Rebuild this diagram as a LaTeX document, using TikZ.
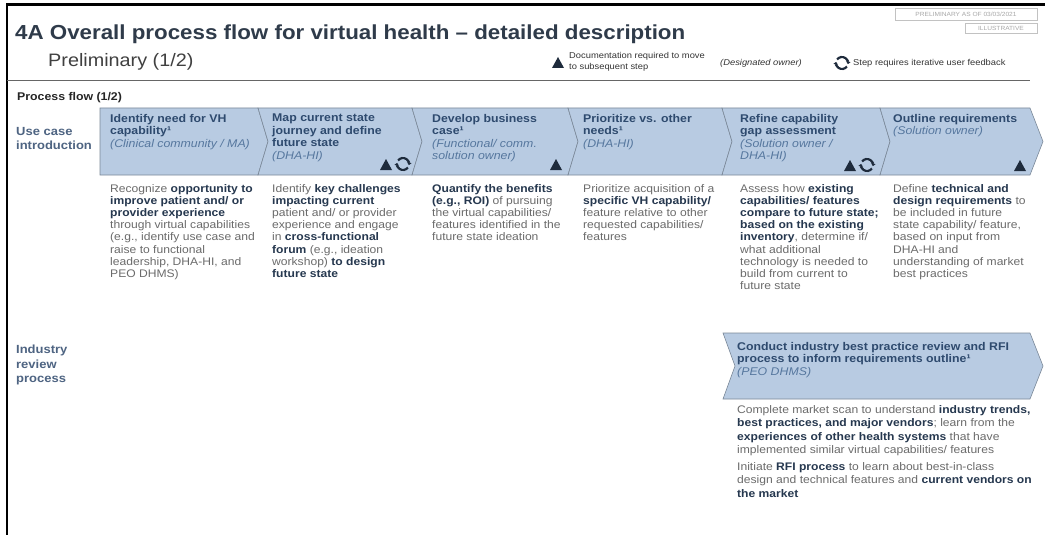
\documentclass[tikz,border=0pt]{standalone}
\usepackage{fontspec}
\setmainfont{Liberation Sans}[FakeStretch=1.1]
\usetikzlibrary{arrows.meta}

\definecolor{band}{HTML}{B8CBE2}
\definecolor{bandline}{HTML}{7A8898}
\definecolor{hdrc}{HTML}{2E4A6E}
\definecolor{ownc}{HTML}{56779E}
\definecolor{bodyc}{HTML}{6B6B6B}
\definecolor{emc}{HTML}{26384F}
\definecolor{rowc}{HTML}{4E6482}
\definecolor{ttlc}{HTML}{2F3B4A}
\definecolor{iconc}{HTML}{1E2B3C}
\definecolor{stampc}{HTML}{A8A8A8}

\newcommand{\hi}[1]{{\bfseries\color{emc}#1}}
\newcommand{\own}[1]{{\mdseries\itshape\color{ownc}#1}}

\begin{document}
\begin{tikzpicture}[x=1pt,y=-1pt,
  chev/.style={fill=band, draw=bandline, line width=0.6pt},
  hdr/.style={anchor=north west, inner sep=0pt, align=left, text=hdrc,
    font=\fontsize{11.2}{12.5}\selectfont\bfseries},
  desc/.style={anchor=north west, inner sep=0pt, align=left, text=bodyc,
    font=\fontsize{11}{12.2}\selectfont},
  lbl/.style={anchor=north west, inner sep=0pt, align=left, text=rowc,
    font=\fontsize{11.8}{14.5}\selectfont\bfseries},
  legend/.style={inner sep=0pt, text=black!80, font=\fontsize{8.5}{11}\selectfont},
  stamp/.style={draw=stampc!70, line width=0.5pt, fill=white},
  doctri/.pic={\fill[iconc] (-6,5) -- (6,5) -- (0,-6) -- cycle;},
  iterate/.pic={
    \draw[iconc, line width=2.2pt, -{Triangle[length=2.4pt,width=4.6pt]}]
      (35:6) arc[start angle=35, end angle=190, radius=6];
    \draw[iconc, line width=2.2pt, -{Triangle[length=2.4pt,width=4.6pt]}]
      (215:6) arc[start angle=215, end angle=370, radius=6];}
]
\useasboundingbox (0,0) rectangle (1045,535);
\fill[white] (0,0) rectangle (1045,535);

% page frame
\draw[line width=2.5pt] (7,535) -- (7,4.5) -- (1045,4.5);

% stamp boxes
\draw[stamp] (895,8) rectangle (1037,20);
\node[inner sep=0pt, text=stampc, font=\fontsize{6}{7}\selectfont] (stamp1) at (966,14) {PRELIMINARY AS OF 03/03/2021};
\draw[stamp] (965,23) rectangle (1037,33);
\node[inner sep=0pt, text=stampc, font=\fontsize{6}{7}\selectfont] (stamp2) at (1001,28) {ILLUSTRATIVE};

% title block
\node[anchor=base west, inner sep=0pt, text=ttlc, font=\fontsize{20.3}{24}\selectfont\bfseries] (title) at (15,40) {4A Overall process flow for virtual health -- detailed description};
\node[anchor=base west, inner sep=0pt, text=black!75, font=\fontsize{18}{20}\selectfont] (sub) at (48,66.5) {Preliminary (1/2)};

% legend
\pic at (558,63) {doctri};
\node[legend, anchor=north west, align=left] (legdoc) at (569,52) {Documentation required to move\\to subsequent step};
\node[legend, anchor=base west, font=\fontsize{8.5}{11}\selectfont\itshape] (legown) at (720,66) {(Designated owner)};
\pic at (842,63) {iterate};
\node[legend, anchor=base west] (legit) at (853,66) {Step requires iterative user feedback};
\draw[black!60, line width=0.7pt] (7,80) -- (1030,80);

\node[anchor=base west, inner sep=0pt, text=black!85, font=\fontsize{11.2}{13}\selectfont\bfseries] (pf) at (17,101) {Process flow (1/2)};

% row labels
\node[lbl] (row1) at (16,127) {Use case\\introduction};
\node[lbl] (row2) at (16,345) {Industry\\review\\process};

% chevron band, row 1
\draw[chev] (100,108) -- (258,108) -- (268,141.5) -- (258,175) -- (100,175) -- cycle;
\draw[chev] (258,108) -- (412,108) -- (422,141.5) -- (412,175) -- (258,175) -- (268,141.5) -- cycle;
\draw[chev] (412,108) -- (568,108) -- (578,141.5) -- (568,175) -- (412,175) -- (422,141.5) -- cycle;
\draw[chev] (568,108) -- (722,108) -- (732,141.5) -- (722,175) -- (568,175) -- (578,141.5) -- cycle;
\draw[chev] (722,108) -- (880,108) -- (890,141.5) -- (880,175) -- (722,175) -- (732,141.5) -- cycle;
\draw[chev] (880,108) -- (1030,108) -- (1043,141.5) -- (1030,175) -- (880,175) -- (890,141.5) -- cycle;

% chevron, row 2
\draw[chev] (723,333) -- (1030,333) -- (1043,366) -- (1030,399) -- (723,399) -- (735,366) -- cycle;

% step headers
\node[hdr] (h1) at (110,114) {Identify need for VH\\capability¹\\\own{(Clinical community / MA)}};
\node[hdr] (h2) at (272,114) {Map current state\\journey and define\\future state\\\own{(DHA-HI)}};
\node[hdr] (h3) at (432,114) {Develop business\\case¹\\\own{(Functional/ comm.}\\\own{solution owner)}};
\node[hdr] (h4) at (583,114) {Prioritize vs. other\\needs¹\\\own{(DHA-HI)}};
\node[hdr] (h5) at (740,114) {Refine capability\\gap assessment\\\own{(Solution owner /}\\\own{DHA-HI)}};
\node[hdr] (h6) at (893,114) {Outline requirements\\\own{(Solution owner)}};
\node[hdr] (h7) at (737,342) {Conduct industry best practice review and RFI\\process to inform requirements outline¹\\\own{(PEO DHMS)}};

% step markers
\pic at (386,165) {doctri};
\pic at (403,164) {iterate};
\pic at (556,165) {doctri};
\pic at (850,166) {doctri};
\pic at (867,165) {iterate};
\pic at (1020,166) {doctri};

% step descriptions
\node[desc] (d1) at (110,184) {Recognize \hi{opportunity to}\\\hi{improve patient and/ or}\\\hi{provider experience}\\through virtual capabilities\\(e.g., identify use case and\\raise to functional\\leadership, DHA-HI, and\\PEO DHMS)};
\node[desc] (d2) at (272,184) {Identify \hi{key challenges}\\\hi{impacting current}\\patient and/ or provider\\experience and engage\\in \hi{cross-functional}\\\hi{forum} (e.g., ideation\\workshop) \hi{to design}\\\hi{future state}};
\node[desc] (d3) at (432,184) {\hi{Quantify the benefits}\\\hi{(e.g., ROI)} of pursuing\\the virtual capabilities/\\features identified in the\\future state ideation};
\node[desc] (d4) at (583,184) {Prioritize acquisition of a\\\hi{specific VH capability/}\\feature relative to other\\requested capabilities/\\features};
\node[desc] (d5) at (740,184) {Assess how \hi{existing}\\\hi{capabilities/ features}\\\hi{compare to future state;}\\\hi{based on the existing}\\\hi{inventory}, determine if/\\what additional\\technology is needed to\\build from current to\\future state};
\node[desc] (d6) at (893,184) {Define \hi{technical and}\\\hi{design requirements} to\\be included in future\\state capability/ feature,\\based on input from\\DHA-HI and\\understanding of market\\best practices};
\node[desc, font=\fontsize{11}{13.6}\selectfont] (d7a) at (737,405) {Complete market scan to understand \hi{industry trends,}\\\hi{best practices, and major vendors}; learn from the\\\hi{experiences of other health systems} that have\\implemented similar virtual capabilities/ features};
\node[desc, font=\fontsize{11}{13.6}\selectfont] (d7b) at (737,462) {Initiate \hi{RFI process} to learn about best-in-class\\design and technical features and \hi{current vendors on}\\\hi{the market}};
\end{tikzpicture}
\end{document}
